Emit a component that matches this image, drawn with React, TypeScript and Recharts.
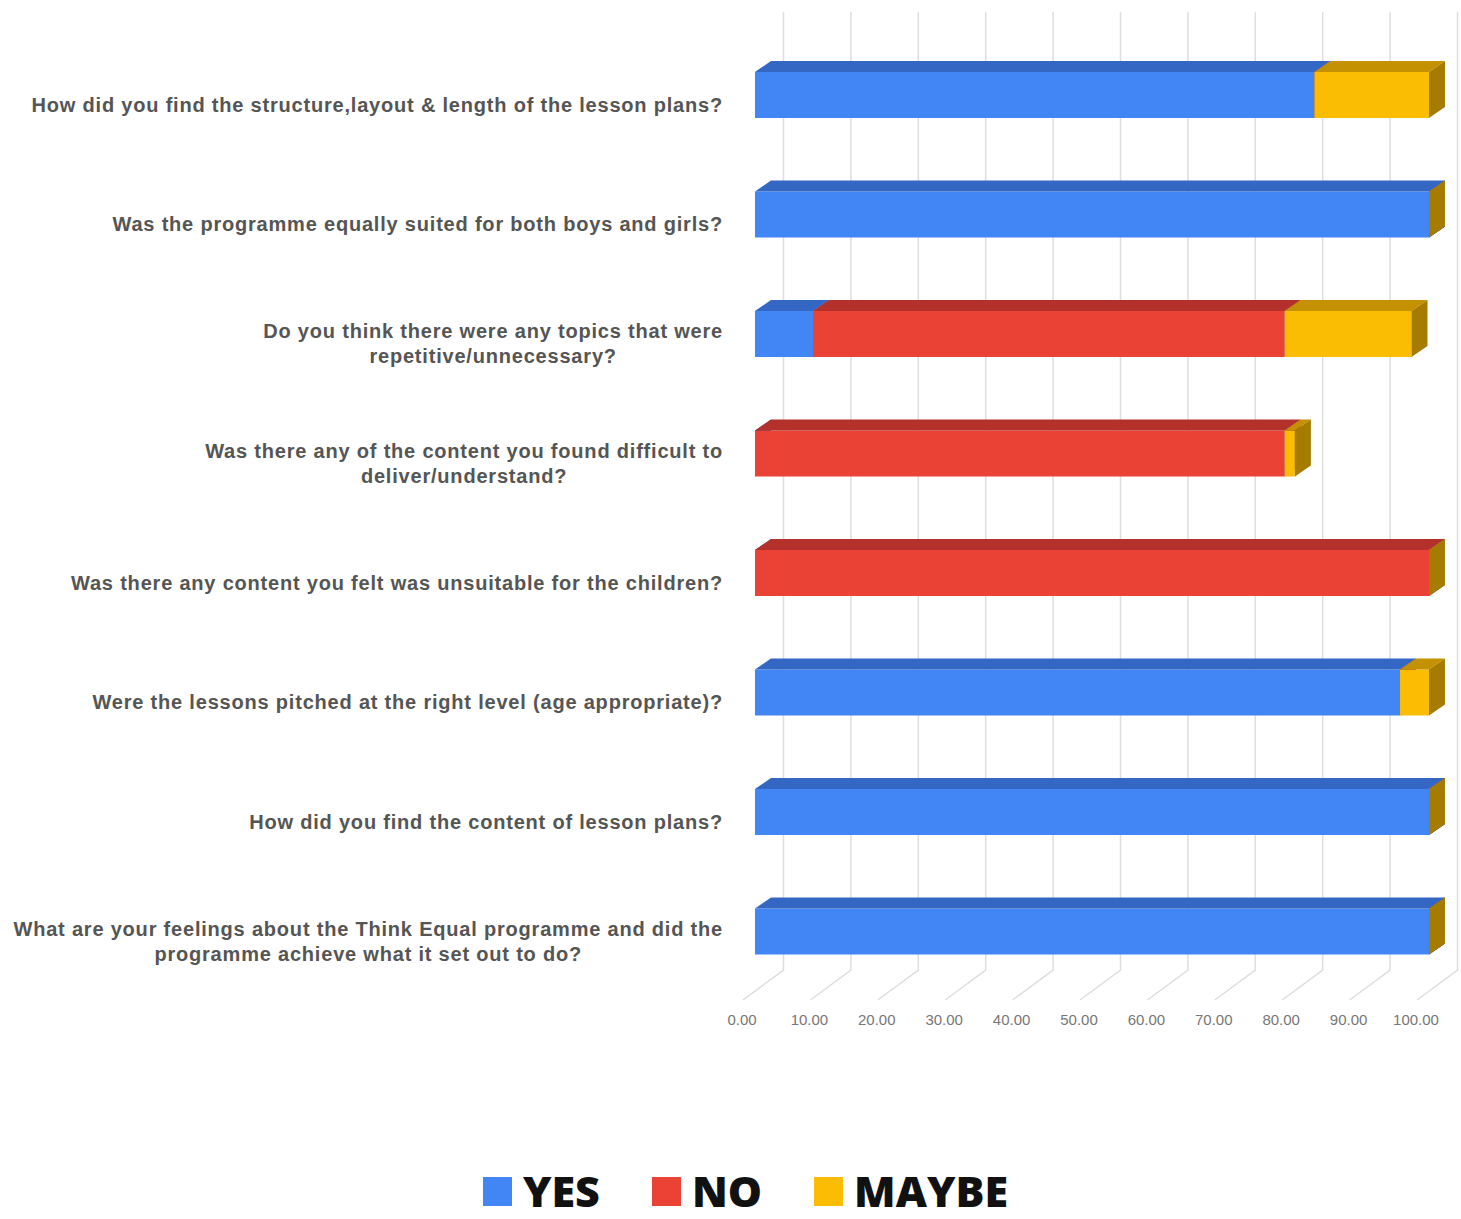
import { BarChart, Bar, XAxis, YAxis, CartesianGrid, Legend } from 'recharts';

const QUESTIONS = [
  'How did you find the structure,layout & length of the lesson plans?',
  'Was the programme equally suited for both boys and girls?',
  'Do you think there were any topics that were\nrepetitive/unnecessary?',
  'Was there any of the content you found difficult to\ndeliver/understand?',
  'Was there any content you felt was unsuitable for the children?',
  'Were the lessons pitched at the right level (age appropriate)?',
  'How did you find the content of lesson plans?',
  'What are your feelings about the Think Equal programme and did the\nprogramme achieve what it set out to do?',
];
const YES = [83.0, 100, 8.6, 0, 0, 95.7, 100, 100];
const NO = [0, 0, 70.0, 78.6, 100, 0, 0, 0];
const MAYBE = [17.0, 0, 18.8, 1.5, 0, 4.3, 0, 0];
const X_TICKS = [0, 10, 20, 30, 40, 50, 60, 70, 80, 90, 100];

const DATA = QUESTIONS.map((q, i) => ({ q, yes: YES[i], no: NO[i], maybe: MAYBE[i] }));

const SERIES = [
  { key: 'yes', name: 'YES', front: '#4285f4', top: '#3466c4', side: '#2f5bb0' },
  { key: 'no', name: 'NO', front: '#ea4335', top: '#b3312a', side: '#9e2a23' },
  { key: 'maybe', name: 'MAYBE', front: '#fbbc04', top: '#c49102', side: '#a67c00' },
];

// 3d depth of the blocks
const DX = 16;
const DY = 11;
const LABEL_FONT = '"Liberation Sans", Arial, sans-serif';
const LABEL_SIZE = 20;
const LABEL_SPACING = 0.8;

let ctx: CanvasRenderingContext2D | null = null;
function measure(s: string) {
  if (!ctx) ctx = document.createElement('canvas').getContext('2d');
  const extra = s.length * LABEL_SPACING;
  if (!ctx) return s.length * LABEL_SIZE * 0.55 + extra;
  ctx.font = `bold ${LABEL_SIZE}px ${LABEL_FONT}`;
  return ctx.measureText(s).width + extra;
}

function Block3D(props: any) {
  const { x, y, width, height, front, top, side } = props;
  if (x == null || y == null) return null;
  const w = Math.max(width || 0, 0);
  return (
    <g>
      <rect x={x} y={y} width={w} height={height} fill={front} />
      <polygon points={`${x},${y} ${x + DX},${y - DY} ${x + w + DX},${y - DY} ${x + w},${y}`} fill={top} />
      <polygon
        points={`${x + w},${y} ${x + w + DX},${y - DY} ${x + w + DX},${y + height - DY} ${x + w},${y + height}`}
        fill={side}
      />
    </g>
  );
}

function QuestionTick(props: any) {
  const { x, y, payload } = props;
  const lines = String(payload.value).split('\n');
  const maxW = Math.max(...lines.map(measure));
  const right = x - 32;
  const cx = right - maxW / 2;
  const lh = 25;
  const startY = y + 10 - ((lines.length - 1) * lh) / 2;
  return (
    <text
      textAnchor="middle"
      fill="#555"
      fontFamily={LABEL_FONT}
      fontSize={LABEL_SIZE}
      fontWeight="bold"
      letterSpacing={LABEL_SPACING}
    >
      {lines.map((l, i) => (
        <tspan key={i} x={cx} y={startY + i * lh} dominantBaseline="central">
          {l}
        </tspan>
      ))}
    </text>
  );
}

function ValueTick(props: any) {
  const { x, y, payload } = props;
  return (
    <text x={x - 13} y={y + 34} textAnchor="middle" fill="#777" fontFamily={LABEL_FONT} fontSize={15}>
      {Number(payload.value).toFixed(2)}
    </text>
  );
}

function GridLine(p: any) {
  const bx = p.x1 + 28.5;
  const top = Math.min(p.y1, p.y2) - 23;
  const bottom = Math.max(p.y1, p.y2);
  return (
    <path
      key={`g-${p.x1}`}
      d={`M${bx},${top} L${bx},${bottom - 21} L${p.x1 - 12},${bottom + 9}`}
      stroke="#dedede"
      strokeWidth={1.5}
      fill="none"
    />
  );
}

function LegendRow() {
  return (
    <div style={{ display: 'flex', justifyContent: 'center', paddingLeft: 30, gap: 52 }}>
      {SERIES.map((s) => (
        <div key={s.key} style={{ display: 'flex', alignItems: 'center', gap: 11 }}>
          <span style={{ width: 29, height: 29, background: s.front, display: 'inline-block' }} />
          <span
            style={{
              fontFamily: '"Open Sans", Lato, sans-serif',
              fontWeight: 800,
              fontSize: 43,
              color: '#111',
              lineHeight: '46px',
            }}
          >
            {s.name}
          </span>
        </div>
      ))}
    </div>
  );
}

export default function App() {
  return (
    <div style={{ position: 'absolute', left: 0, top: 0, background: '#fff' }}>
      <BarChart
        width={1461}
        height={1219}
        data={DATA}
        layout="vertical"
        margin={{ top: 35, right: 32, bottom: 188, left: 0 }}
        barSize={46}
      >
        <CartesianGrid horizontal={false} vertical={GridLine} />
        <XAxis
          type="number"
          domain={[0, 100]}
          ticks={X_TICKS}
          height={40}
          axisLine={false}
          tickLine={false}
          tickSize={0}
          tickMargin={0}
          tick={<ValueTick />}
        />
        <YAxis
          type="category"
          dataKey="q"
          width={755}
          axisLine={false}
          tickLine={false}
          tickSize={0}
          tickMargin={0}
          interval={0}
          tick={<QuestionTick />}
        />
        <Legend
          layout="horizontal"
          verticalAlign="middle"
          align="center"
          content={<LegendRow />}
          wrapperStyle={{ top: 1168, left: 0, width: 1461, bottom: 'auto' }}
        />
        {SERIES.map((s) => (
          <Bar
            key={s.key}
            dataKey={s.key}
            name={s.name}
            stackId="a"
            fill={s.front}
            isAnimationActive={false}
            shape={(p: any) => <Block3D {...p} front={s.front} top={s.top} side={s.side} />}
          />
        ))}
      </BarChart>
    </div>
  );
}
